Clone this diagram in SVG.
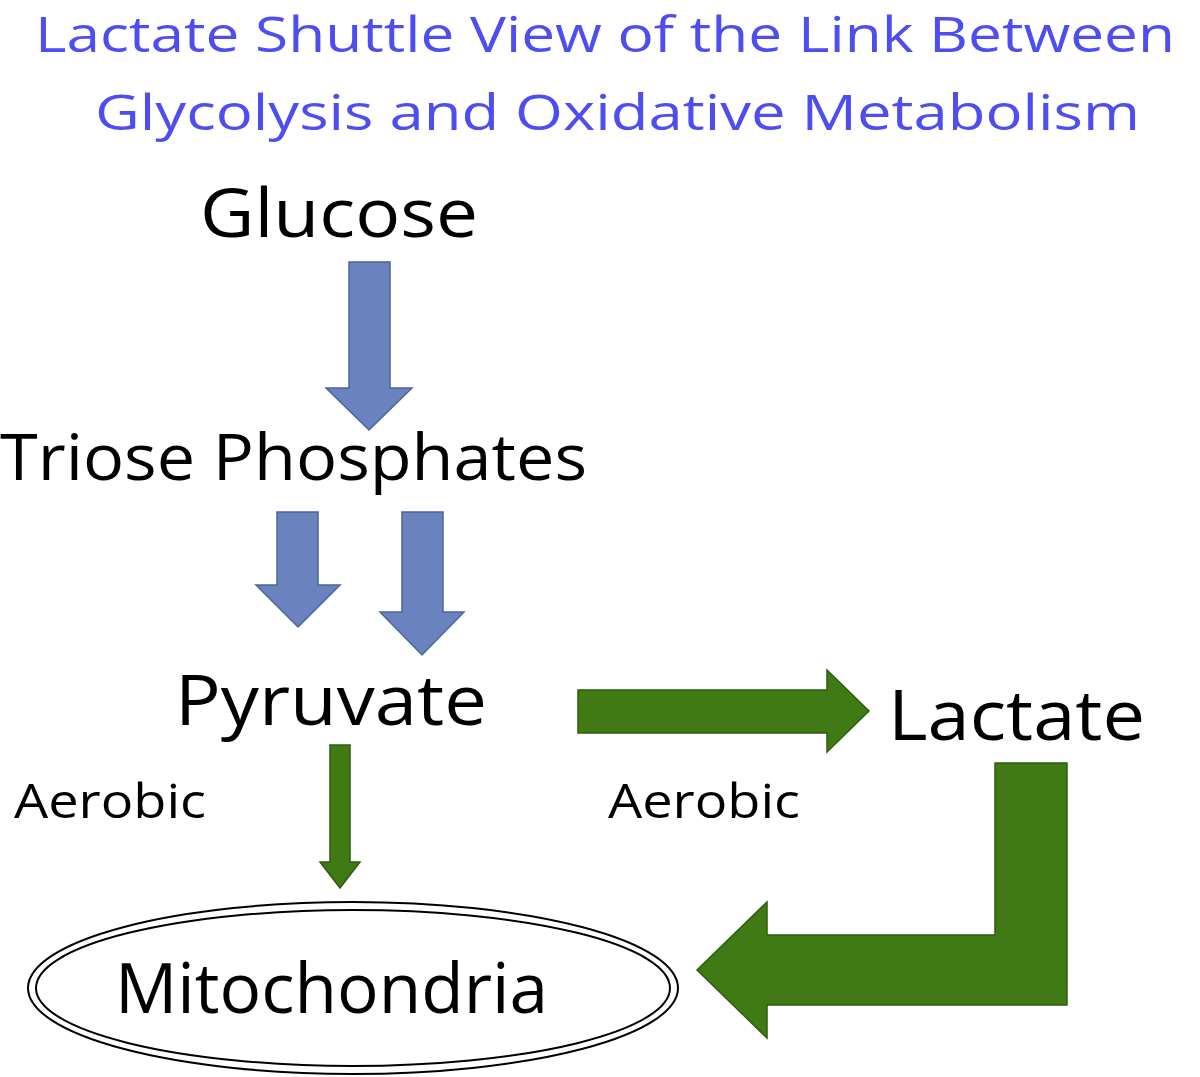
<svg xmlns="http://www.w3.org/2000/svg" width="1200" height="1077" viewBox="0 0 1200 1077">
<style>
.t{font-family:"Open Sans","Liberation Sans",sans-serif;fill:#000}
.ti{font-family:"Open Sans","Liberation Sans",sans-serif;fill:#4d4df2;font-size:50px}
.b{fill:#6a82be;stroke:#4b6699;stroke-width:1.5}
.g{fill:#3f7a14;stroke:#2f5c0e;stroke-width:1.5}
</style>
<rect width="1200" height="1077" fill="#fff"/>
<text class="ti" x="35" y="52" textLength="1140" lengthAdjust="spacingAndGlyphs">Lactate Shuttle View of the Link Between</text>
<text class="ti" x="95" y="130" textLength="1045" lengthAdjust="spacingAndGlyphs">Glycolysis and Oxidative Metabolism</text>
<g id="glucose"><text class="t" x="200" y="237" font-size="68" textLength="278" lengthAdjust="spacingAndGlyphs">Glucose</text></g>
<g id="triose"><text class="t" x="0" y="480" font-size="64" textLength="587" lengthAdjust="spacingAndGlyphs">Triose Phosphates</text></g>
<g id="pyruvate"><text class="t" x="175" y="725" font-size="70" textLength="312" lengthAdjust="spacingAndGlyphs">Pyruvate</text></g>
<g id="lactate"><text class="t" x="888" y="740" font-size="70" textLength="257" lengthAdjust="spacingAndGlyphs">Lactate</text></g>
<g id="aerobic1"><text class="t" x="14" y="818" font-size="48" textLength="192" lengthAdjust="spacingAndGlyphs">Aerobic</text></g>
<g id="aerobic2"><text class="t" x="608" y="818" font-size="48" textLength="192" lengthAdjust="spacingAndGlyphs">Aerobic</text></g>
<g id="mitochondria">
<ellipse cx="353" cy="988" rx="325" ry="86" fill="none" stroke="#000" stroke-width="2"/>
<ellipse cx="353" cy="988" rx="317" ry="78" fill="none" stroke="#000" stroke-width="2"/>
<text class="t" x="115" y="1013" font-size="70" textLength="433" lengthAdjust="spacingAndGlyphs">Mitochondria</text>
</g>
<g id="connectors">
<polygon class="b" points="349,262 390,262 390,388 412,388 369,430 326,388 349,388"/>
<polygon class="b" points="277,512 318,512 318,585 340,585 298,627 256,585 277,585"/>
<polygon class="b" points="402,512 443,512 443,612 464,612 422,655 380,612 402,612"/>
<polygon class="g" points="578,690 827,690 827,670 869,711 827,752 827,733 578,733"/>
<polygon class="g" points="330,745 350,745 350,862 360,862 340,888 320,862 330,862"/>
<polygon class="g" points="995,763 1067,763 1067,1005 767,1005 767,1038 697,970 767,902 767,935 995,935"/>
</g>
</svg>
